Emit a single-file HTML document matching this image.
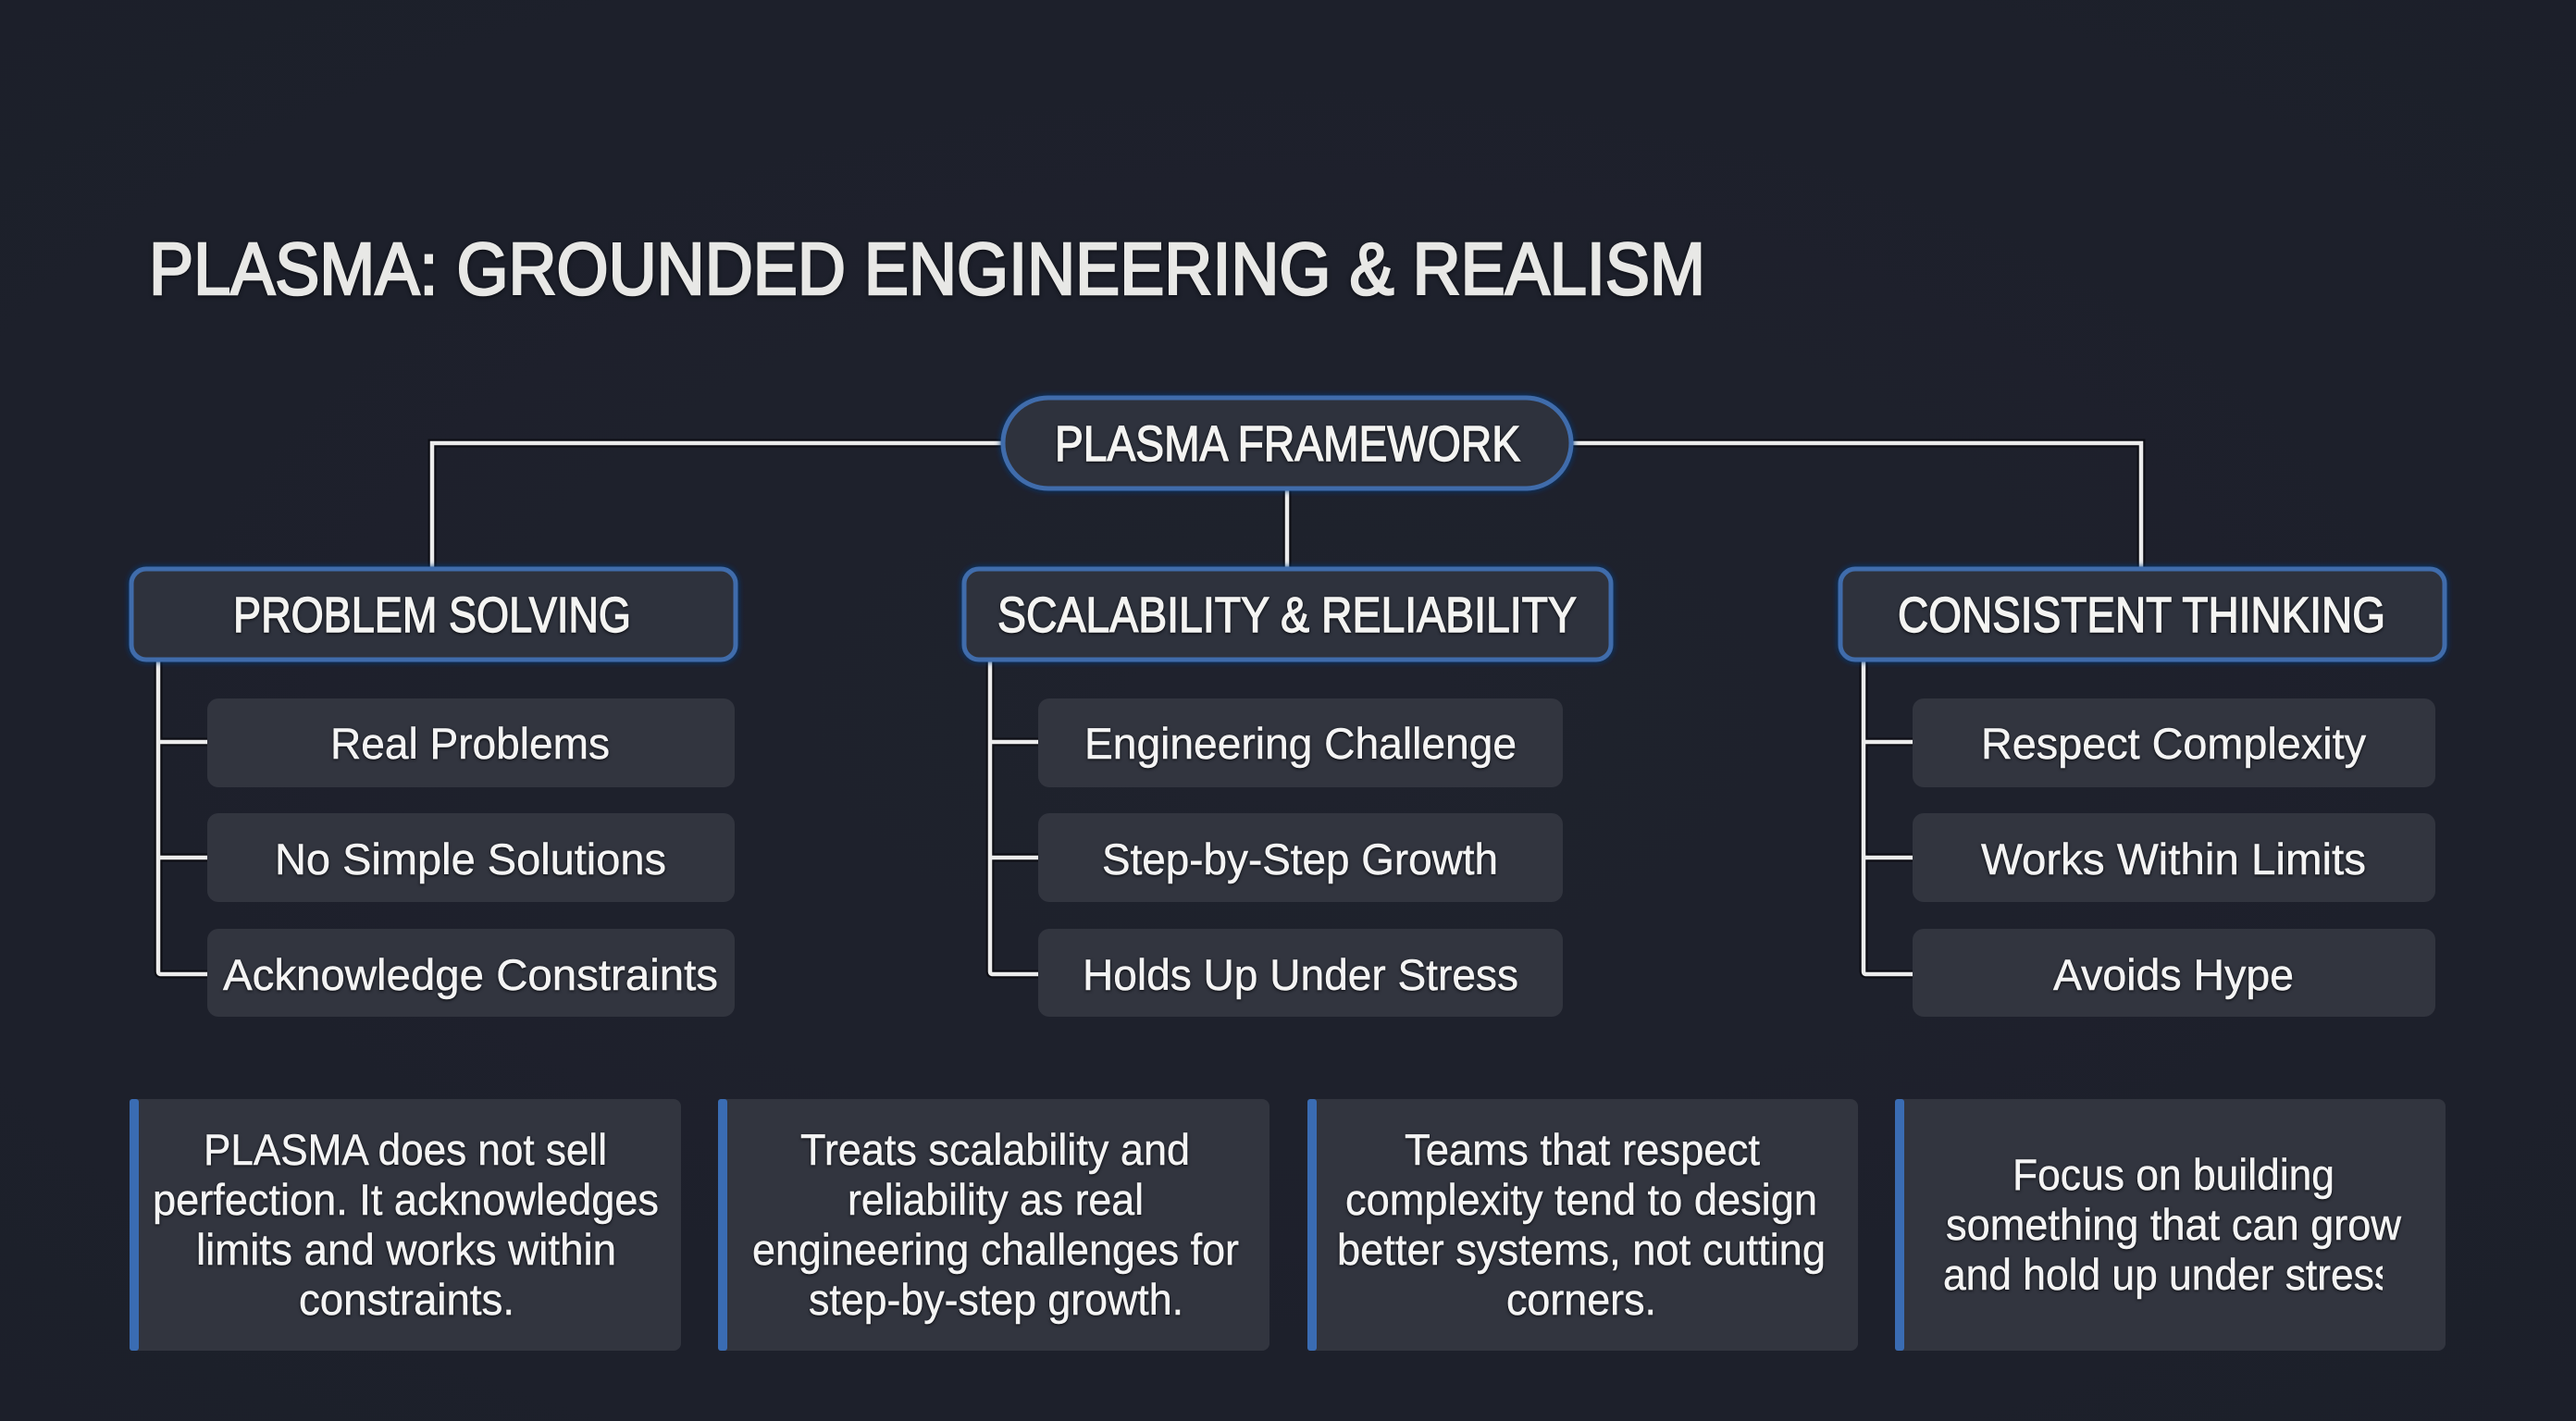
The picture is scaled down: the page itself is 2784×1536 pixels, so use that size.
<!DOCTYPE html>
<html lang="en"><head><meta charset="utf-8"><title>PLASMA: Grounded Engineering &amp; Realism</title>
<style>
html,body{margin:0;padding:0;background:#1e212c;width:2784px;height:1536px;overflow:hidden}
svg{display:block}
text{font-family:"Liberation Sans",sans-serif;fill:#f0f0f0}
.title{font-size:80px;fill:#e8e8e6;stroke:#e8e8e6;stroke-width:2.6px;filter:drop-shadow(0 1px 2px #07080d)}
.head{font-size:54px;fill:#f4f4f2;stroke:#f4f4f2;stroke-width:1.4px;filter:drop-shadow(0 1px 1.5px #05060a)}
.body{font-size:47px;fill:#f4f4f4;stroke:#f4f4f4;stroke-width:.5px;filter:drop-shadow(0 1px 1.5px #05060a)}
.lh{fill:none;stroke:#05060a;stroke-width:9;opacity:.7}
.l{fill:none;stroke:#ececec;stroke-width:4.5}
.h{fill:#2f323e;stroke:#3f6cab;stroke-width:5;filter:url(#glow)}
.c{fill:#32353f}
.b{fill:#3a6cb3}
</style></head><body>
<svg width="2784" height="1536" viewBox="0 0 2784 1536" xmlns="http://www.w3.org/2000/svg">
<defs>
<radialGradient id="bg" cx="50%" cy="50%" r="75%"><stop offset="0" stop-color="#1f222d"/><stop offset="1" stop-color="#1c1f2a"/></radialGradient>
<filter id="glow" x="-5%" y="-20%" width="110%" height="140%"><feDropShadow dx="0" dy="0" stdDeviation="3.5" flood-color="#103a80" flood-opacity="1"/></filter>
<clipPath id="cut"><rect x="2060" y="1340" width="515" height="90"/></clipPath>
</defs>
<rect width="2784" height="1536" fill="url(#bg)"/>

<text class="title" x="161" y="318" textLength="1682" lengthAdjust="spacingAndGlyphs">PLASMA: GROUNDED ENGINEERING &amp; REALISM</text>

<g>
<path class="lh" d="M1082 479H467V613M1699 479H2314V613M1391 530V613M171 715V1050Q171 1053 174 1053H224M171 802H224M171 927H224M1070 715V1050Q1070 1053 1073 1053H1122M1070 802H1122M1070 927H1122M2014 715V1050Q2014 1053 2017 1053H2067M2014 802H2067M2014 927H2067"/>
<path class="l" d="M1082 479H467V613M1699 479H2314V613M1391 530V613M171 715V1050Q171 1053 174 1053H224M171 802H224M171 927H224M1070 715V1050Q1070 1053 1073 1053H1122M1070 802H1122M1070 927H1122M2014 715V1050Q2014 1053 2017 1053H2067M2014 802H2067M2014 927H2067"/>
</g>

<rect class="h" x="1084" y="430" width="614" height="98" rx="49"/>
<rect class="h" x="142" y="615" width="653" height="98" rx="16"/>
<rect class="h" x="1042" y="615" width="699" height="98" rx="16"/>
<rect class="h" x="1989" y="615" width="653" height="98" rx="16"/>

<text class="head" x="1140" y="498" textLength="503" lengthAdjust="spacingAndGlyphs">PLASMA FRAMEWORK</text>
<text class="head" x="252" y="683" textLength="430" lengthAdjust="spacingAndGlyphs">PROBLEM SOLVING</text>
<text class="head" x="1078" y="683" textLength="626" lengthAdjust="spacingAndGlyphs">SCALABILITY &amp; RELIABILITY</text>
<text class="head" x="2051" y="683" textLength="527" lengthAdjust="spacingAndGlyphs">CONSISTENT THINKING</text>

<rect class="c" x="224" y="755" width="570" height="96" rx="12"/>
<rect class="c" x="224" y="879" width="570" height="96" rx="12"/>
<rect class="c" x="224" y="1004" width="570" height="95" rx="12"/>
<rect class="c" x="1122" y="755" width="567" height="96" rx="12"/>
<rect class="c" x="1122" y="879" width="567" height="96" rx="12"/>
<rect class="c" x="1122" y="1004" width="567" height="95" rx="12"/>
<rect class="c" x="2067" y="755" width="565" height="96" rx="12"/>
<rect class="c" x="2067" y="879" width="565" height="96" rx="12"/>
<rect class="c" x="2067" y="1004" width="565" height="95" rx="12"/>

<text class="body" x="357" y="820" textLength="302" lengthAdjust="spacingAndGlyphs">Real Problems</text>
<text class="body" x="297" y="945" textLength="423" lengthAdjust="spacingAndGlyphs">No Simple Solutions</text>
<text class="body" x="241" y="1070" textLength="535" lengthAdjust="spacingAndGlyphs">Acknowledge Constraints</text>
<text class="body" x="1172" y="820" textLength="467" lengthAdjust="spacingAndGlyphs">Engineering Challenge</text>
<text class="body" x="1191" y="945" textLength="428" lengthAdjust="spacingAndGlyphs">Step-by-Step Growth</text>
<text class="body" x="1170" y="1070" textLength="471" lengthAdjust="spacingAndGlyphs">Holds Up Under Stress</text>
<text class="body" x="2141" y="820" textLength="416" lengthAdjust="spacingAndGlyphs">Respect Complexity</text>
<text class="body" x="2141" y="945" textLength="416" lengthAdjust="spacingAndGlyphs">Works Within Limits</text>
<text class="body" x="2219" y="1070" textLength="260" lengthAdjust="spacingAndGlyphs">Avoids Hype</text>

<rect class="c" x="140" y="1188" width="596" height="272" rx="8"/><rect class="b" x="140" y="1188" width="10" height="272" rx="3"/>
<rect class="c" x="776" y="1188" width="596" height="272" rx="8"/><rect class="b" x="776" y="1188" width="10" height="272" rx="3"/>
<rect class="c" x="1413" y="1188" width="595" height="272" rx="8"/><rect class="b" x="1413" y="1188" width="10" height="272" rx="3"/>
<rect class="c" x="2048" y="1188" width="595" height="272" rx="8"/><rect class="b" x="2048" y="1188" width="10" height="272" rx="3"/>

<text class="body" x="220" y="1259" textLength="436" lengthAdjust="spacingAndGlyphs">PLASMA does not sell</text>
<text class="body" x="165" y="1313" textLength="547" lengthAdjust="spacingAndGlyphs">perfection. It acknowledges</text>
<text class="body" x="212" y="1367" textLength="454" lengthAdjust="spacingAndGlyphs">limits and works within</text>
<text class="body" x="323" y="1421" textLength="233" lengthAdjust="spacingAndGlyphs">constraints.</text>

<text class="body" x="865" y="1259" textLength="421" lengthAdjust="spacingAndGlyphs">Treats scalability and</text>
<text class="body" x="916" y="1313" textLength="320" lengthAdjust="spacingAndGlyphs">reliability as real</text>
<text class="body" x="813" y="1367" textLength="526" lengthAdjust="spacingAndGlyphs">engineering challenges for</text>
<text class="body" x="874" y="1421" textLength="405" lengthAdjust="spacingAndGlyphs">step-by-step growth.</text>

<text class="body" x="1518" y="1259" textLength="384" lengthAdjust="spacingAndGlyphs">Teams that respect</text>
<text class="body" x="1454" y="1313" textLength="510" lengthAdjust="spacingAndGlyphs">complexity tend to design</text>
<text class="body" x="1445" y="1367" textLength="528" lengthAdjust="spacingAndGlyphs">better systems, not cutting</text>
<text class="body" x="1628" y="1421" textLength="162" lengthAdjust="spacingAndGlyphs">corners.</text>

<text class="body" x="2175" y="1286" textLength="348" lengthAdjust="spacingAndGlyphs">Focus on building</text>
<text class="body" x="2103" y="1340" textLength="492" lengthAdjust="spacingAndGlyphs">something that can grow</text>
<g clip-path="url(#cut)"><text class="body" x="2100" y="1394" textLength="488" lengthAdjust="spacingAndGlyphs">and hold up under stress</text></g>
</svg>
</body></html>
